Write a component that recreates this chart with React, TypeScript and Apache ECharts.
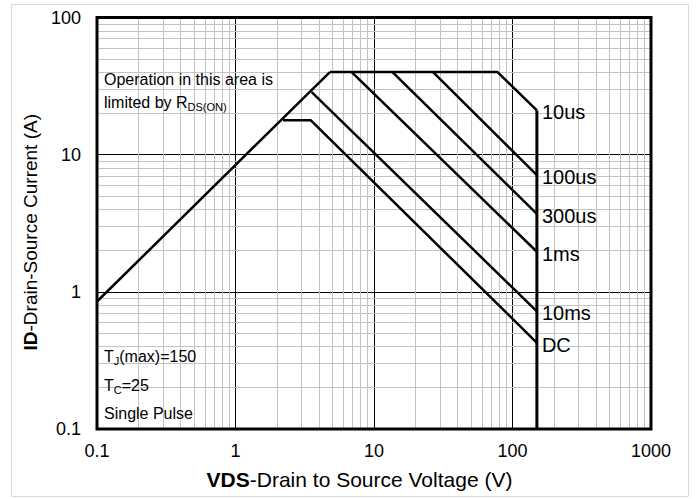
import React, { useEffect, useRef } from "react";
import * as echarts from "echarts";

const FONT = '"Liberation Sans", Arial, Helvetica, sans-serif';

// axis ranges
const xRange = [0.1, 1000];
const yRange = [0.1, 100];
// decades used for minor grid lines (2..9 within each decade)
const xDecades = [0.1, 1, 10, 100];
const yDecades = [0.1, 1, 10];
const minorSteps = [2, 3, 4, 5, 6, 7, 8, 9];

// SOA curves: [VDS (V), ID (A)]
const rdsLimit = [[0.1, 0.85], [4.8, 40]];
const pulse10us = [[4.8, 40], [78, 40], [150, 21]];
const pulse100us = [[26.7, 40], [150, 7.1]];
const pulse300us = [[13.6, 40], [150, 3.7]];
const pulse1ms = [[6.9, 40], [150, 1.96]];
const pulse10ms = [[3.55, 28.6], [150, 0.72]];
const pulseDC = [[2.2, 17.8], [3.5, 17.8], [150, 0.425]];
const vdsMax = [[150, 21], [150, 0.1]];

const curveNames = ["10us", "100us", "300us", "1ms", "10ms", "DC"];
const curveData = [pulse10us, pulse100us, pulse300us, pulse1ms, pulse10ms, pulseDC];

const GRID = { left: 97, top: 17.5, width: 554, height: 411.5 };

export default function App() {
  const ref = useRef<HTMLDivElement>(null);
  useEffect(() => {
    if (!ref.current) return;
    const chart = echarts.init(ref.current, undefined, { renderer: "svg" });

    const xMinor: number[] = [];
    xDecades.forEach((d) => minorSteps.forEach((s) => xMinor.push(+(d * s).toPrecision(6))));
    const yMinor: number[] = [];
    yDecades.forEach((d) => minorSteps.forEach((s) => yMinor.push(+(d * s).toPrecision(6))));

    const curveStyle = { color: "#000", width: 2.5 };

    const series: any[] = [
      {
        type: "line",
        name: "minorGrid",
        data: [],
        symbol: "none",
        silent: true,
        z: 1,
        markLine: {
          silent: true,
          symbol: "none",
          animation: false,
          label: { show: false },
          lineStyle: { color: "#c3c3c3", width: 1, type: "solid" },
          data: [
            ...xMinor.map((v) => ({ xAxis: v })),
            ...yMinor.map((v) => ({ yAxis: v })),
          ],
        },
      },
      {
        type: "line",
        name: "rds",
        data: rdsLimit,
        symbol: "none",
        z: 5,
        lineStyle: curveStyle,
      },
      {
        type: "line",
        name: "vdsMax",
        data: vdsMax,
        symbol: "none",
        z: 5,
        lineStyle: { color: "#000", width: 3 },
      },
      ...curveNames.map((n, i) => ({
        type: "line",
        name: n,
        data: curveData[i],
        symbol: "none",
        z: 5,
        lineStyle: curveStyle,
        endLabel: {
          show: true,
          formatter: n,
          color: "#000",
          fontSize: 20,
          fontFamily: FONT,
          distance: 5,
          offset: [0, 2],
        },
      })),
    ];

    const axisLabelStyle = {
      color: "#000",
      fontSize: 18,
      fontFamily: FONT,
      formatter: (v: number) => String(+v.toPrecision(6)),
    };

    chart.setOption({
      animation: false,
      backgroundColor: "#fff",
      grid: { ...GRID, containLabel: false },
      xAxis: {
        type: "log",
        logBase: 10,
        min: xRange[0],
        max: xRange[1],
        axisLine: { show: false },
        axisTick: { show: false },
        axisLabel: { ...axisLabelStyle, margin: 13 },
        splitLine: { show: true, lineStyle: { color: "#000", width: 1 } },
        name: "{b|VDS}-Drain to Source Voltage (V)",
        nameLocation: "middle",
        nameGap: 40,
        nameTextStyle: {
          color: "#000",
          fontSize: 21,
          fontFamily: FONT,
          padding: [0, 29, 0, 0],
          rich: { b: { fontWeight: "bold", fontSize: 21, fontFamily: FONT, color: "#000" } },
        },
      },
      yAxis: {
        type: "log",
        logBase: 10,
        min: yRange[0],
        max: yRange[1],
        axisLine: { show: false },
        axisTick: { show: false },
        axisLabel: { ...axisLabelStyle, margin: 16 },
        splitLine: { show: true, lineStyle: { color: "#000", width: 1 } },
        name: "{b|ID}-Drain-Source Current (A)",
        nameLocation: "middle",
        nameGap: 57,
        nameTextStyle: {
          color: "#000",
          fontSize: 19,
          fontFamily: FONT,
          padding: [0, 18, 0, 0],
          rich: { b: { fontWeight: "bold", fontSize: 19, fontFamily: FONT, color: "#000" } },
        },
      },
      graphic: [
        {
          type: "rect",
          z: 0,
          silent: true,
          shape: { x: 11.5, y: 4.5, width: 677, height: 492 },
          style: { fill: "none", stroke: "#d9d9d9", lineWidth: 1 },
        },
        {
          type: "rect",
          z: 100,
          silent: true,
          shape: { x: GRID.left, y: GRID.top, width: GRID.width, height: GRID.height },
          style: { fill: "none", stroke: "#000", lineWidth: 3 },
        },
        {
          type: "text",
          z: 100,
          left: 104,
          top: 71,
          style: {
            text: "Operation in this area is",
            fontSize: 16,
            fontFamily: FONT,
            fill: "#000",
          },
        },
        {
          type: "text",
          z: 100,
          left: 104,
          top: 94,
          style: {
            text: "{n|limited by R}{s|DS(ON)}",
            fill: "#000",
            rich: {
              n: { fontSize: 16, fontFamily: FONT, lineHeight: 20, fill: "#000" },
              s: { fontSize: 11, fontFamily: FONT, lineHeight: 12, verticalAlign: "bottom", fill: "#000" },
            },
          },
        },
        {
          type: "text",
          z: 100,
          left: 104,
          top: 348,
          style: {
            text: "{n|T}{s|J}{n|(max)=150}",
            fill: "#000",
            rich: {
              n: { fontSize: 16, fontFamily: FONT, lineHeight: 20, fill: "#000" },
              s: { fontSize: 11, fontFamily: FONT, lineHeight: 12, verticalAlign: "bottom", fill: "#000" },
            },
          },
        },
        {
          type: "text",
          z: 100,
          left: 104,
          top: 377,
          style: {
            text: "{n|T}{s|C}{n|=25}",
            fill: "#000",
            rich: {
              n: { fontSize: 16, fontFamily: FONT, lineHeight: 20, fill: "#000" },
              s: { fontSize: 11, fontFamily: FONT, lineHeight: 12, verticalAlign: "bottom", fill: "#000" },
            },
          },
        },
        {
          type: "text",
          z: 100,
          left: 104,
          top: 405,
          style: {
            text: "Single Pulse",
            fontSize: 16,
            fontFamily: FONT,
            fill: "#000",
          },
        },
      ],
      series,
    });

    return () => chart.dispose();
  }, []);

  return (
    <div
      ref={ref}
      style={{ position: "fixed", left: 0, top: 0, width: 697, height: 499, background: "#fff" }}
    />
  );
}
